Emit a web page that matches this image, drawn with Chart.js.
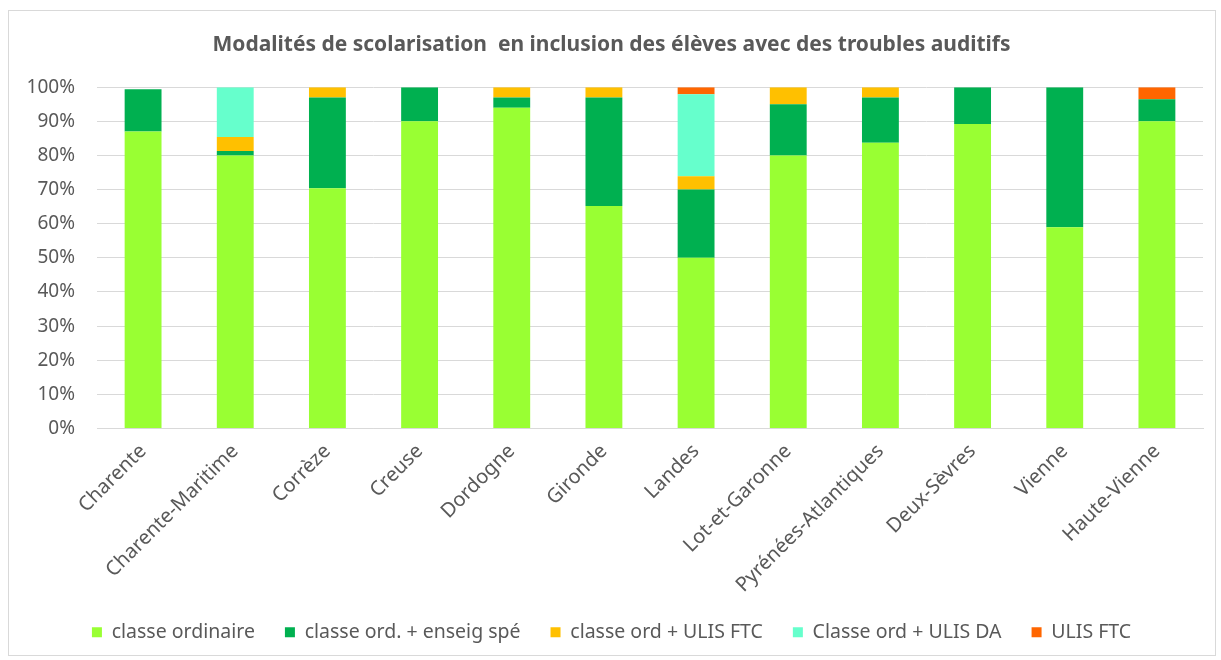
<!DOCTYPE html>
<html>
<head>
<meta charset="utf-8">
<script src="https://cdn.jsdelivr.net/npm/chart.js@4.4.0/dist/chart.umd.min.js"></script>
<style>
  body { margin: 0; background: #fff; }
  #frame { position: absolute; left: 8px; top: 10px; width: 1206px; height: 644px; border: 1px solid #d9d9d9; }
  #scolChart { position: absolute; left: 0; top: 0; }
</style>
</head>
<body>
<div id="frame"></div>
<canvas id="scolChart" width="1221" height="660"></canvas>
<script>
var departements = ['Charente', 'Charente-Maritime', 'Corrèze', 'Creuse', 'Dordogne', 'Gironde',
  'Landes', 'Lot-et-Garonne', 'Pyrénées-Atlantiques', 'Deux-Sèvres', 'Vienne', 'Haute-Vienne'];
var classeOrdinaire = [87, 80, 70.4, 90, 94, 65.2, 50, 80, 83.7, 89.2, 59, 90];
var enseigSpe      = [12.4, 1.3, 26.6, 10, 3, 31.8, 20, 15, 13.3, 10.8, 41, 6.5];
var ulisFtcClasse  = [0, 4.1, 3, 0, 3, 3, 3.9, 5, 3, 0, 0, 0];
var ulisDa         = [0, 14.6, 0, 0, 0, 0, 24, 0, 0, 0, 0, 0];
var ulisFtc        = [0, 0, 0, 0, 0, 0, 2.1, 0, 0, 0, 0, 3.5];
var yTicks = ['0%', '10%', '20%', '30%', '40%', '50%', '60%', '70%', '80%', '90%', '100%'];

var txt = '#595959';
var ctx = document.getElementById('scolChart');
var scolChart = new Chart(ctx, {
  type: 'bar',
  data: {
    labels: departements,
    datasets: [{
      label: 'classe ordinaire',
      data: classeOrdinaire,
      backgroundColor: '#99FF33'
    }, {
      label: 'classe ord. + enseig spé',
      data: enseigSpe,
      backgroundColor: '#00B050'
    }, {
      label: 'classe ord + ULIS FTC',
      data: ulisFtcClasse,
      backgroundColor: '#FFC000'
    }, {
      label: 'Classe ord + ULIS DA',
      data: ulisDa,
      backgroundColor: '#66FFCC'
    }, {
      label: 'ULIS FTC',
      data: ulisFtc,
      backgroundColor: '#FF6600'
    }]
  },
  options: {
    responsive: false,
    animation: false,
    devicePixelRatio: 1,
    layout: { padding: { left: 20, right: 18, top: 0, bottom: 8 } },
    datasets: { bar: { categoryPercentage: 1, barPercentage: 0.4 } },
    plugins: {
      title: {
        display: true,
        text: 'Modalités de scolarisation  en inclusion des élèves avec des troubles auditifs',
        color: txt,
        font: { family: 'Noto Sans', size: 21, weight: 'bold' },
        padding: { top: 32, bottom: 30 }
      },
      legend: {
        position: 'bottom',
        labels: {
          color: txt,
          boxWidth: 10,
          boxHeight: 10,
          padding: 30,
          font: { family: 'Noto Sans', size: 19.5 }
        }
      },
      tooltip: { enabled: false }
    },
    scales: {
      x: {
        stacked: true,
        grid: { display: false },
        border: { color: '#d9d9d9' },
        ticks: {
          color: txt,
          minRotation: 45,
          maxRotation: 45,
          font: { family: 'Noto Sans', size: 20 }
        },
        afterFit: function (scale) { scale.height = 164; }
      },
      y: {
        stacked: true,
        min: 0,
        max: 100,
        grid: { color: '#d9d9d9', drawTicks: false },
        border: { display: false },
        ticks: {
          stepSize: 10,
          color: txt,
          padding: 22,
          font: { family: 'Noto Sans', size: 19 },
          callback: function (v) { return yTicks[v / 10]; }
        },
        afterFit: function (scale) { scale.width = 77; }
      }
    }
  }
});
</script>
</body>
</html>
